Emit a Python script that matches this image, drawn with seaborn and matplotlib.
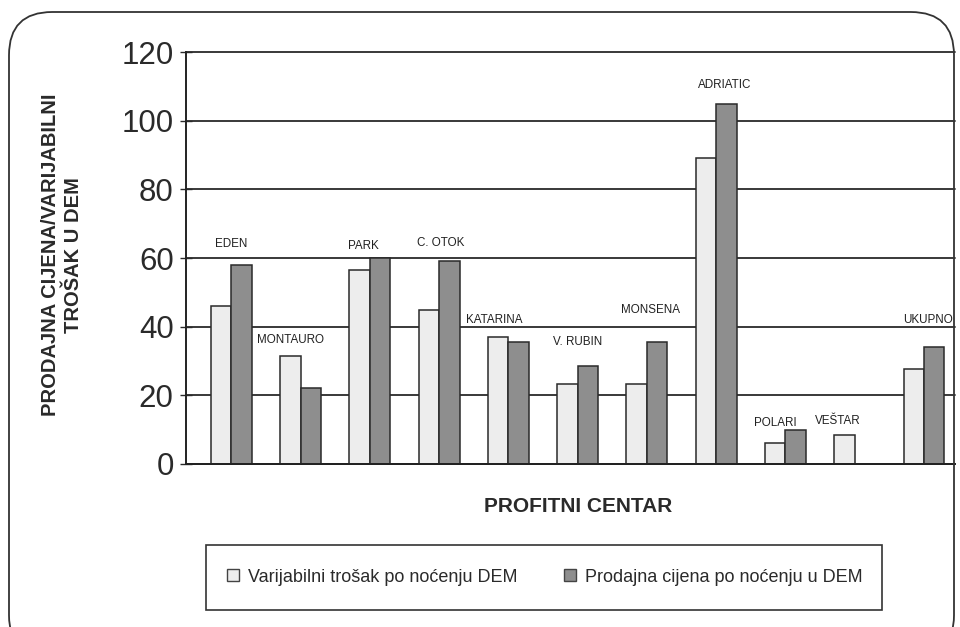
import pandas as pd
import numpy as np
import matplotlib.pyplot as plt
import seaborn as sns
from matplotlib.patches import Patch, Rectangle, FancyBboxPatch

# values
centri = ['EDEN', 'MONTAURO', 'PARK', 'C. OTOK', 'KATARINA', 'V. RUBIN',
          'MONSENA', 'ADRIATIC', 'POLARI', 'VEŠTAR', 'UKUPNO']
varijabilni = [46, 31.5, 56.5, 45, 37, 23.3, 23.3, 89, 6, 8.5, 27.7]
prodajna = [58, 22, 60, 59, 35.5, 28.5, 35.5, 105, 10, 0, 34]
# where the centre names sit (height in DEM, shift in category units)
label_y = [64, 36, 63.5, 64.5, 42, 35.5, 45, 110.5, 12, 12.5, 42]
label_dx = [0, -0.14, -0.1, 0.02, -0.2, 0, 0.05, 0.12, -0.14, -0.24, 0.06]

ser_var = 'Varijabilni trošak po noćenju DEM'
ser_pro = 'Prodajna cijena po noćenju u DEM'

df = pd.DataFrame({
    'centar': centri * 2,
    'serija': [ser_var] * len(centri) + [ser_pro] * len(centri),
    'dem': varijabilni + prodajna,
})

sns.set_style('white')
plt.rcParams['font.family'] = ['Liberation Sans', 'DejaVu Sans']

fig = plt.figure(figsize=(9.6, 6.27), dpi=100)
ax = fig.add_axes([0.194, 0.260, 0.801, 0.657])

colors = {ser_var: '#ededed', ser_pro: '#8e8e8e'}
sns.barplot(data=df, x='centar', y='dem', hue='serija', order=centri,
            hue_order=[ser_var, ser_pro], palette=colors, width=0.59,
            edgecolor='#2a2a2a', linewidth=1.1, legend=False, ax=ax)

ax.set_ylim(0, 120)
ax.set_xlim(-0.65, 10.45)
ax.set_yticks(np.arange(0, 121, 20))
ax.tick_params(axis='y', labelsize=22.5, direction='inout', length=8,
               width=1.0, pad=5, left=True, colors='#2a2a2a')
ax.tick_params(axis='x', bottom=False, labelbottom=False)
ax.yaxis.grid(True, color='#2a2a2a', linewidth=1.3)
for gl in ax.get_ygridlines():
    gl.set_clip_on(False)
ax.set_axisbelow(True)
for s in ['top', 'right']:
    ax.spines[s].set_visible(False)
for s in ['left', 'bottom']:
    ax.spines[s].set_color('#222222')
    ax.spines[s].set_linewidth(1.4)

for i, name in enumerate(centri):
    ax.text(i + label_dx[i], label_y[i], name, ha='center', va='center',
            fontsize=8.4, color='#222222')

ax.set_xlabel('')
ax.set_ylabel('PRODAJNA CIJENA/VARIJABILNI\nTROŠAK U DEM', fontsize=14.5,
              fontweight='bold', color='#2a2a2a', linespacing=1.25)
ax.yaxis.set_label_coords(-0.134, 0.507)

fig.text(578 / 960, 1 - 507 / 627, 'PROFITNI CENTAR', ha='center', va='center',
         fontsize=15, fontweight='bold', color='#2a2a2a')

# legend box
fig.add_artist(Rectangle((206 / 960, 1 - 610 / 627), 676 / 960, 65 / 627,
                         transform=fig.transFigure, fill=False,
                         edgecolor='#333333', linewidth=1.2))
handles = [Patch(facecolor=colors[ser_var], edgecolor='#444444', label=ser_var),
           Patch(facecolor=colors[ser_pro], edgecolor='#444444', label=ser_pro)]
fig.legend(handles=handles, loc='center', ncol=2, frameon=False,
           bbox_to_anchor=(545 / 960, 1 - 577 / 627), fontsize=13,
           handlelength=0.65, handleheight=0.65, handletextpad=0.5,
           columnspacing=2.6, labelcolor='#2a2a2a')

# rounded outer frame
fig.add_artist(FancyBboxPatch((9 / 960, -0.05), 945 / 960, 1 - 12 / 627 + 0.05,
                              boxstyle='round,pad=0,rounding_size=0.045',
                              transform=fig.transFigure, fill=False,
                              edgecolor='#333333', linewidth=1.3,
                              mutation_aspect=960 / 627))

fig.savefig('out.png', dpi=100)
